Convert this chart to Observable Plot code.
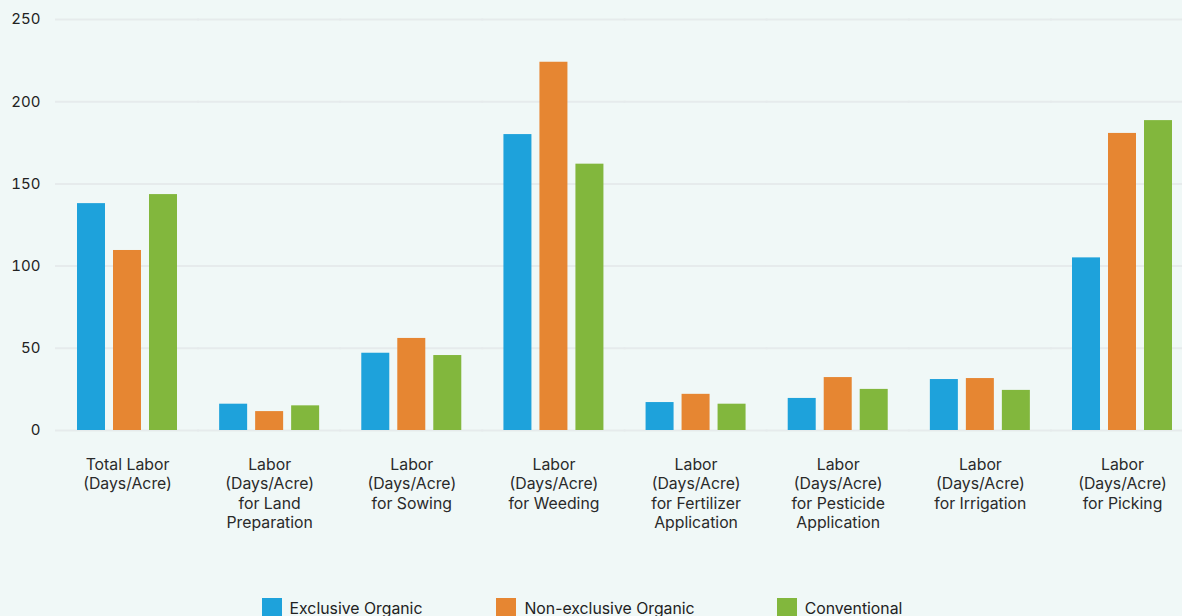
<!DOCTYPE html>
<html>
<head>
<meta charset="utf-8">
<script src="https://cdn.jsdelivr.net/npm/d3@7"></script>
<script src="https://cdn.jsdelivr.net/npm/@observablehq/plot@0.6"></script>
<style>
  html, body { margin: 0; padding: 0; background: #f0f8f7; overflow: hidden; }
  #chart { width: 1182px; }
  .legend { display: flex; justify-content: center; margin-top: 38px; font-family: Inter, sans-serif; font-size: 15.8px; color: #222; padding-right: 18px; }
  .legend .item { display: flex; align-items: center; }
  .legend .sw { width: 20px; height: 20px; margin-right: 8px; }
</style>
</head>
<body>
<div id="chart"></div>
<script>
const categories = [
  "Total Labor (Days/Acre)",
  "Labor (Days/Acre) for Land Preparation",
  "Labor (Days/Acre) for Sowing",
  "Labor (Days/Acre) for Weeding",
  "Labor (Days/Acre) for Fertilizer Application",
  "Labor (Days/Acre) for Pesticide Application",
  "Labor (Days/Acre) for Irrigation",
  "Labor (Days/Acre) for Picking"
];
const tickLabels = [
  "Total Labor\n(Days/Acre)",
  "Labor\n(Days/Acre)\nfor Land\nPreparation",
  "Labor\n(Days/Acre)\nfor Sowing",
  "Labor\n(Days/Acre)\nfor Weeding",
  "Labor\n(Days/Acre)\nfor Fertilizer\nApplication",
  "Labor\n(Days/Acre)\nfor Pesticide\nApplication",
  "Labor\n(Days/Acre)\nfor Irrigation",
  "Labor\n(Days/Acre)\nfor Picking"
];
const seriesNames = ["Exclusive Organic", "Non-exclusive Organic", "Conventional"];
const seriesColors = ["#1ea2db", "#e68632", "#82b73d"];
const exclusiveOrganic = [138, 16, 47, 180, 17, 19.5, 31, 105];
const nonExclusiveOrganic = [109.5, 11.5, 56, 224, 22, 32.2, 31.6, 180.7];
const conventional = [143.5, 15, 45.6, 162, 16, 25, 24.4, 188.5];
const yTicks = [0, 50, 100, 150, 200, 250];

const seriesValues = [exclusiveOrganic, nonExclusiveOrganic, conventional];
const data = [];
categories.forEach((c, i) => {
  seriesNames.forEach((s, j) => {
    data.push({category: c, series: s, value: seriesValues[j][i]});
  });
});
const labelOf = new Map(categories.map((c, i) => [c, tickLabels[i]]));

const chart = Plot.plot({
  width: 1182,
  height: 560,
  marginLeft: 77,
  marginRight: 10,
  marginTop: 19,
  marginBottom: 130,
  style: {background: "transparent", fontFamily: "Inter, sans-serif", fontSize: "15px", color: "#222"},
  fx: {domain: categories, paddingInner: 0.2965, paddingOuter: 0, round: false, label: null},
  x: {domain: seriesNames, paddingInner: 0.2222, paddingOuter: 0, round: false, axis: null},
  y: {domain: [0, 250], ticks: yTicks, label: null},
  color: {domain: seriesNames, range: seriesColors},
  marks: [
    Plot.ruleY(yTicks, {stroke: "#e6ebec", strokeWidth: 2, insetLeft: -22, insetRight: -22}),
    Plot.barY(data, {fx: "category", x: "series", y: "value", fill: "series"}),
    Plot.axisY({ticks: yTicks, tickSize: 0, tickPadding: 37, fontSize: 15, fill: "#222"}),
    Plot.axisFx({anchor: "bottom", tickSize: 0, tickPadding: 26, lineHeight: 1.22, fontSize: 15.8, fill: "#2a2a2a", tickFormat: d => labelOf.get(d), label: null})
  ]
});
document.getElementById("chart").appendChild(chart);

const legend = document.createElement("div");
legend.className = "legend";
const gaps = [74, 82];
seriesNames.forEach((s, i) => {
  const item = document.createElement("div");
  item.className = "item";
  if (i < 2) item.style.marginRight = gaps[i] + "px";
  const sw = document.createElement("span");
  sw.className = "sw";
  sw.style.background = seriesColors[i];
  const t = document.createElement("span");
  t.textContent = s;
  item.appendChild(sw);
  item.appendChild(t);
  legend.appendChild(item);
});
document.getElementById("chart").appendChild(legend);
</script>
</body>
</html>
